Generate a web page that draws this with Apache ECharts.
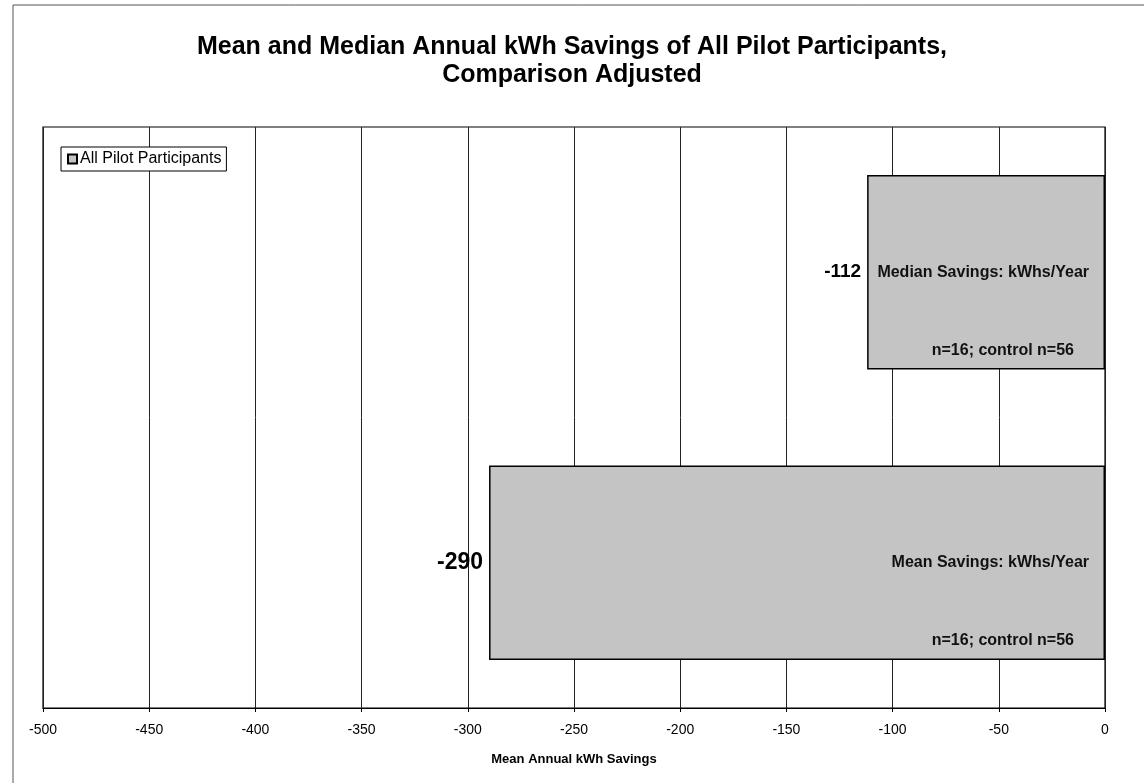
<!DOCTYPE html>
<html>
<head>
<meta charset="utf-8">
<script src="https://cdn.jsdelivr.net/npm/echarts@6/dist/echarts.min.js"></script>
<style>
  html, body { margin: 0; padding: 0; background: #fff; }
  #chart { width: 1144px; height: 783px; }
</style>
</head>
<body>
<div id="chart"></div>
<script>
// Savings categories (bottom to top) and their values in kWh per year
const categories = ['Mean', 'Median'];
const savings = [-290, -112];
const barTitles = ['Mean Savings: kWhs/Year', 'Median Savings: kWhs/Year'];
const sampleNotes = ['n=16; control n=56', 'n=16; control n=56'];
const seriesName = 'All Pilot Participants';
const xTicks = { min: -500, max: 0, step: 50 };

const FONT = '"Liberation Sans", Arial, sans-serif';
const valueFontSizes = [23, 19];

const chart = echarts.init(document.getElementById('chart'), null, { renderer: 'canvas' });

chart.setOption({
  backgroundColor: '#ffffff',
  animation: false,
  textStyle: { fontFamily: FONT },
  title: {
    text: 'Mean and Median Annual kWh Savings of All Pilot Participants,\nComparison Adjusted',
    left: 'center',
    top: 28,
    textStyle: { fontFamily: FONT, fontSize: 25, fontWeight: 'bold', color: '#000', lineHeight: 28 }
  },
  legend: {
    data: [seriesName],
    left: 61,
    top: 147,
    orient: 'horizontal',
    icon: 'rect',
    itemWidth: 9,
    itemHeight: 9,
    itemGap: 4,
    padding: [4, 5, 4, 6],
    borderColor: '#000',
    borderWidth: 1,
    backgroundColor: '#fff',
    textStyle: { fontFamily: FONT, fontSize: 16, color: '#000', padding: [0, 0, 0, -2] }
  },
  grid: {
    left: 43,
    right: 39,
    top: 127,
    bottom: 75,
    show: true,
    borderColor: '#000',
    borderWidth: 1.2,
    containLabel: false
  },
  xAxis: {
    type: 'value',
    min: xTicks.min,
    max: xTicks.max,
    interval: xTicks.step,
    name: 'Mean Annual kWh Savings',
    nameLocation: 'middle',
    nameGap: 45,
    nameTextStyle: { fontFamily: FONT, fontSize: 13, fontWeight: 'bold', color: '#000' },
    axisLine: { show: true, lineStyle: { color: '#000', width: 1.2 } },
    axisTick: { show: true, length: 4, lineStyle: { color: '#000' } },
    axisLabel: { fontFamily: FONT, fontSize: 14, color: '#000', margin: 15 },
    splitLine: { show: true, lineStyle: { color: '#222', width: 1 } }
  },
  yAxis: {
    type: 'category',
    data: categories,
    axisLine: { show: false },
    axisTick: { show: false },
    axisLabel: { show: false },
    splitLine: { show: false }
  },
  series: [
    {
      name: seriesName,
      type: 'bar',
      data: savings.map((v, i) => ({
        value: v,
        label: { fontSize: valueFontSizes[i] }
      })),
      barWidth: '67%',
      itemStyle: { color: '#c4c4c4', borderColor: '#000', borderWidth: 1.5 },
      label: {
        show: true,
        position: 'left',
        distance: 6,
        fontFamily: FONT,
        fontWeight: 'bold',
        color: '#000',
        formatter: p => String(p.value)
      },
      z: 3
    },
    {
      // Overlay carrying the descriptive text inside each bar
      name: 'notes',
      type: 'bar',
      data: savings,
      barWidth: '67%',
      barGap: '-100%',
      silent: true,
      itemStyle: { color: 'rgba(0,0,0,0)' },
      label: {
        show: true,
        position: 'insideRight',
        distance: 0,
        lineHeight: 78,
        align: 'right',
        formatter: p => '\n{a|' + barTitles[p.dataIndex] + '}\n{b|' + sampleNotes[p.dataIndex] + '}',
        rich: {
          a: { fontFamily: FONT, fontSize: 16, fontWeight: 'bold', color: '#111', lineHeight: 78, padding: [0, 16, 0, 0] },
          b: { fontFamily: FONT, fontSize: 16, fontWeight: 'bold', color: '#111', lineHeight: 78, padding: [0, 31, 0, 0] }
        }
      },
      z: 4
    }
  ],
  graphic: [
    {
      type: 'polyline',
      silent: true,
      shape: { points: [[13, 783], [13, 5], [1144, 5]] },
      style: { stroke: '#555', lineWidth: 1, fill: null }
    }
  ]
});
</script>
</body>
</html>
